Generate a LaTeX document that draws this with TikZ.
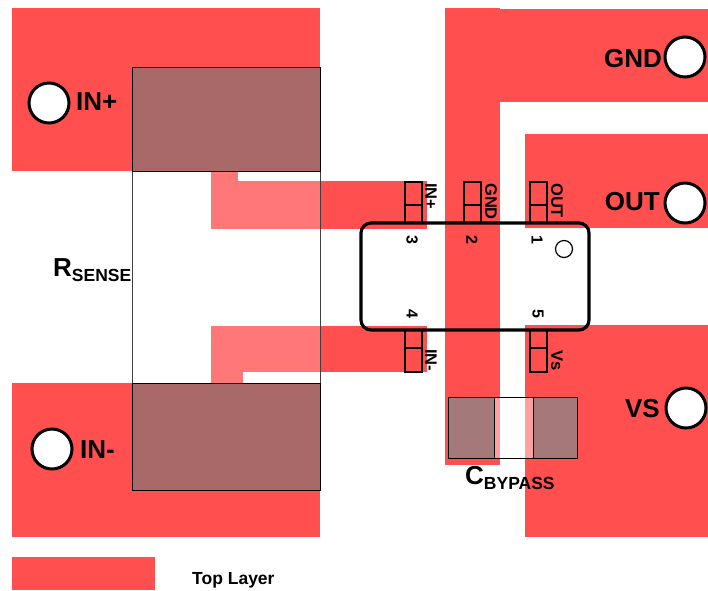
\documentclass[tikz,border=0pt]{standalone}
\usepackage{fontspec}
\setmainfont{Liberation Sans}
\definecolor{cu}{HTML}{FF4F4F}
\definecolor{culight}{HTML}{FF7777}
\definecolor{brownr}{HTML}{AA6969}
\definecolor{brownc}{HTML}{A57979}
\definecolor{pinkc}{HTML}{FFA0A0}
\tikzset{
  x=1pt,y=-1pt,
  term/.style={circle,draw=black,line width=3pt,fill=white,minimum size=40pt,inner sep=0pt},
  biglab/.style={font=\bfseries\fontsize{26}{26}\selectfont,inner sep=0pt},
  pinlab/.style={font=\bfseries\fontsize{16.5}{16}\selectfont,inner sep=0pt,rotate=-90},
  pinnum/.style={font=\bfseries\fontsize{16}{16}\selectfont,inner sep=0pt,rotate=-90},
  padbox/.style={draw=black,line width=1.5pt},
  body/.style={draw=black,line width=0.8pt},
}
\begin{document}
\begin{tikzpicture}
\useasboundingbox (0,0) rectangle (708,590);
% copper
\fill[cu] (12,8) rectangle (320,171);
\fill[cu] (12,383) rectangle (320,537);
\fill[cu] (445,8) rectangle (500,465);
\fill[cu] (445,9) rectangle (708,102);
\fill[cu] (525,134) rectangle (708,228);
\fill[cu] (525,325) rectangle (708,537);
\fill[cu] (320,181) rectangle (427,229);
\fill[cu] (320,326) rectangle (427,372);
\fill[cu] (12,557) rectangle (155,590);
% traces below the sense resistor
\fill[culight] (211,181) rectangle (320,229);
\fill[culight] (211,171) rectangle (238,181);
\fill[culight] (211,326) rectangle (320,372);
\fill[culight] (211,372) rectangle (243,383);
% sense resistor
\draw[draw=black!75,line width=1pt] (132,171) rectangle (320,383);
\node[body,fill=brownr,minimum width=188pt,minimum height=104pt,inner sep=0pt] (rtop) at (226,119) {};
\node[body,fill=brownr,minimum width=188pt,minimum height=107pt,inner sep=0pt] (rbot) at (226,436.5) {};
% bypass capacitor
\fill[pinkc] (494,397) rectangle (500,458);
\fill[pinkc] (525,397) rectangle (533,458);
\draw[body,line width=1pt] (448,397) rectangle (577,458);
\node[body,line width=1pt,fill=brownc,minimum width=46pt,minimum height=61pt,inner sep=0pt] (cl) at (471,427.5) {};
\node[body,line width=1pt,fill=brownc,minimum width=44pt,minimum height=61pt,inner sep=0pt] (cr) at (555,427.5) {};
% chip
\draw[black,line width=3.2pt,rounded corners=10pt] (361,223) rectangle (589,330);
\node[circle,draw=black,line width=1.2pt,minimum size=17pt,inner sep=0pt] (dot) at (564,249) {};
% pads
\foreach \x/\n in {405/a,464/b,530/c}{
  \draw[padbox] (\x,182) rectangle (\x+17,223);
  \draw[padbox] (\x,205) -- (\x+17,205);
}
\foreach \x/\n in {405/d,530/e}{
  \draw[padbox] (\x,330) rectangle (\x+17,372);
  \draw[padbox] (\x,348) -- (\x+17,348);
}
% pad labels
\node[pinlab,anchor=north west] (l1) at (437,183) {IN+};
\node[pinlab,anchor=north west] (l2) at (497,183) {GND};
\node[pinlab,anchor=north west] (l3) at (563,183) {OUT};
\node[pinlab,anchor=north west] (l4) at (437,349) {IN-};
\node[pinlab,anchor=north west] (l5) at (563,350) {Vs};
\node[pinnum] (n3) at (412,240) {3};
\node[pinnum] (n2) at (472,240) {2};
\node[pinnum] (n1) at (537,240) {1};
\node[pinnum] (n4) at (412,314) {4};
\node[pinnum] (n5) at (538,314) {5};
% terminals
\node[term] (tin) at (49,103) {};
\node[term] (tim) at (52,449) {};
\node[term] (tg) at (685,57) {};
\node[term] (to) at (685,203) {};
\node[term] (tv) at (686,408) {};
\node[biglab,anchor=base west] (lin) at (76,110) {IN+};
\node[biglab,anchor=base west] (lim) at (80,458) {IN-};
\node[biglab,anchor=base east] (lg) at (662,67) {GND};
\node[biglab,anchor=base east] (lo) at (660,210) {OUT};
\node[biglab,anchor=base east] (lv) at (660,417) {VS};
\node[anchor=base west,inner sep=0pt,font=\bfseries] (rs) at (53,276) {\fontsize{26}{26}\selectfont R\raisebox{-5pt}{\fontsize{17.5}{17}\selectfont SENSE}};
\node[anchor=base west,inner sep=0pt,font=\bfseries] (cb) at (465,484) {\fontsize{26}{26}\selectfont C\raisebox{-5pt}{\fontsize{17.5}{17}\selectfont BYPASS}};
\node[anchor=base west,inner sep=0pt,font=\bfseries\fontsize{17.5}{17}\selectfont] (leg) at (192,584) {Top Layer};
\end{tikzpicture}
\end{document}
